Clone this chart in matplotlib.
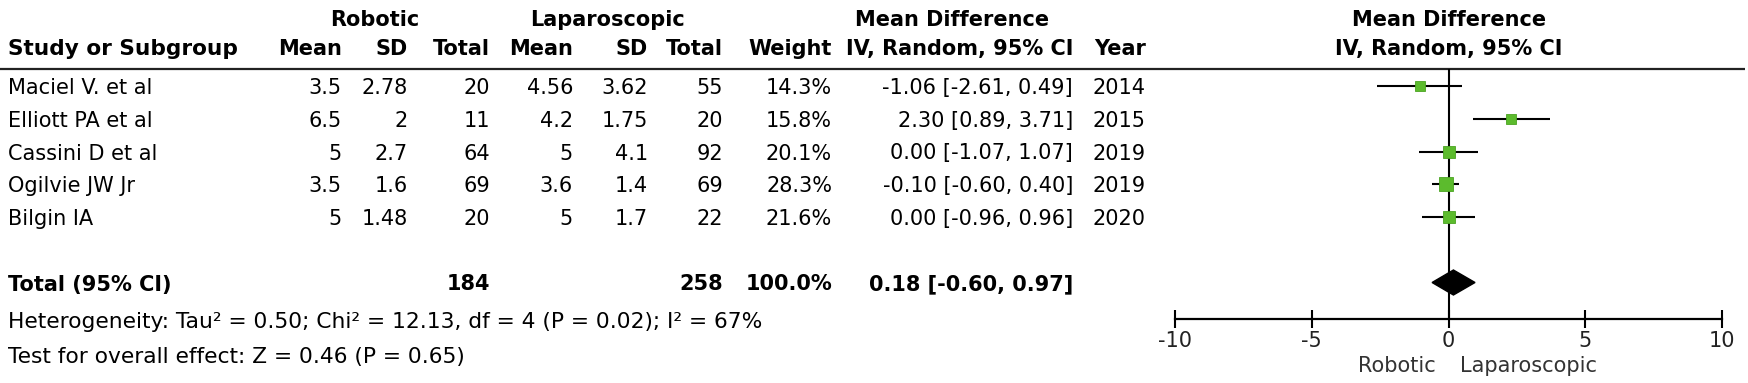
import numpy as np
import matplotlib
matplotlib.use("Agg")
import matplotlib.pyplot as plt

plt.rcParams['font.family'] = ['DejaVu Sans']
plt.rcParams['font.size'] = 15

# --- DATA ---
studies = ["Maciel V. et al", "Elliott PA et al", "Cassini D et al", "Ogilvie JW Jr", "Bilgin IA"]
rob_mean = [3.5, 6.5, 5, 3.5, 5]
rob_sd = [2.78, 2, 2.7, 1.6, 1.48]
rob_n = [20, 11, 64, 69, 20]
lap_mean = [4.56, 4.2, 5, 3.6, 5]
lap_sd = [3.62, 1.75, 4.1, 1.4, 1.7]
lap_n = [55, 20, 92, 69, 22]
weights = [14.3, 15.8, 20.1, 28.3, 21.6]
md = [-1.06, 2.30, 0.00, -0.10, 0.00]
ci_lo = [-2.61, 0.89, -1.07, -0.60, -0.96]
ci_hi = [0.49, 3.71, 1.07, 0.40, 0.96]
years = [2014, 2015, 2019, 2019, 2020]

total_rob_n = 184
total_lap_n = 258
total_weight = 100.0
total_md, total_lo, total_hi = 0.18, -0.60, 0.97

heterogeneity = "Heterogeneity: Tau\u00b2 = 0.50; Chi\u00b2 = 12.13, df = 4 (P = 0.02); I\u00b2 = 67%"
overall = "Test for overall effect: Z = 0.46 (P = 0.65)"
x_ticks = [-10, -5, 0, 5, 10]

# --- LAYOUT (pixels) ---
W, H = 1748, 383
ROW0, ROWSTEP = 86, 32.75
TOTAL_ROW = 6
GREEN = '#5cbb2d'

fig = plt.figure(figsize=(W / 100, H / 100), dpi=100)

# table layer in pixel coordinates
tab = fig.add_axes([0, 0, 1, 1])
tab.set_xlim(0, W)
tab.set_ylim(H, 0)
tab.axis('off')

def row_y(i):
    return ROW0 + ROWSTEP * i + 2

# column right edges
cols = {'rm': 342, 'rsd': 408, 'rn': 490, 'lm': 573, 'lsd': 648,
        'ln': 723, 'w': 832, 'ci': 1073, 'yr': 1146}

# headers
tab.text(375, 20, "Robotic", ha='center', va='center', weight='bold')
tab.text(608, 20, "Laparoscopic", ha='center', va='center', weight='bold')
tab.text(952, 20, "Mean Difference", ha='center', va='center', weight='bold')
tab.text(1449, 20, "Mean Difference", ha='center', va='center', weight='bold')
tab.text(1449, 49, "IV, Random, 95% CI", ha='center', va='center', weight='bold')
tab.text(8, 49, "Study or Subgroup", ha='left', va='center', weight='bold', fontsize=15.6)
for key, lab in [('rm', 'Mean'), ('rsd', 'SD'), ('rn', 'Total'), ('lm', 'Mean'),
                 ('lsd', 'SD'), ('ln', 'Total'), ('w', 'Weight'),
                 ('ci', 'IV, Random, 95% CI'), ('yr', 'Year')]:
    tab.text(cols[key], 49, lab, ha='right', va='center', weight='bold')

tab.plot([0, W - 3], [69, 69], color='#222222', lw=1.6, solid_capstyle='butt')

# study rows
for i, name in enumerate(studies):
    y = row_y(i)
    tab.text(8, y, name, ha='left', va='center')
    vals = [('rm', f"{rob_mean[i]:g}"), ('rsd', f"{rob_sd[i]:g}"), ('rn', f"{rob_n[i]}"),
            ('lm', f"{lap_mean[i]:g}"), ('lsd', f"{lap_sd[i]:g}"), ('ln', f"{lap_n[i]}"),
            ('w', f"{weights[i]:.1f}%"),
            ('ci', f"{md[i]:.2f} [{ci_lo[i]:.2f}, {ci_hi[i]:.2f}]"),
            ('yr', f"{years[i]}")]
    for key, s in vals:
        tab.text(cols[key], y, s, ha='right', va='center')

# total row
yt = row_y(TOTAL_ROW)
tab.text(8, yt, "Total (95% CI)", ha='left', va='center', weight='bold')
tab.text(cols['rn'], yt, f"{total_rob_n}", ha='right', va='center', weight='bold')
tab.text(cols['ln'], yt, f"{total_lap_n}", ha='right', va='center', weight='bold')
tab.text(cols['w'], yt, f"{total_weight:.1f}%", ha='right', va='center', weight='bold')
tab.text(cols['ci'], yt, f"{total_md:.2f} [{total_lo:.2f}, {total_hi:.2f}]",
         ha='right', va='center', weight='bold')

tab.text(8, 322, heterogeneity, ha='left', va='center', fontsize=15.7)
tab.text(8, 357, overall, ha='left', va='center', fontsize=15.7)

# --- FOREST PANEL ---
x_left, x_right = 1175, 1722
y_top, y_axis = 69, 319
ax = fig.add_axes([x_left / W, 1 - y_axis / H, (x_right - x_left) / W, (y_axis - y_top) / H])
ax.set_facecolor('none')
ax.set_xlim(-10, 10)
ax.set_ylim((y_axis - ROW0) / ROWSTEP, (y_top - ROW0) / ROWSTEP)

rows = np.arange(len(studies))
for i in rows:
    ax.plot([ci_lo[i], ci_hi[i]], [i, i], color='black', lw=1.5, zorder=2,
            solid_capstyle='butt')
    side_px = 2.6 * np.sqrt(weights[i])
    ax.plot(md[i], i, marker='s', ms=side_px * 0.72, color=GREEN,
            mec='#4aa322', mew=0.6, zorder=3)

h = 12.5 / ROWSTEP
ax.fill([total_lo, total_md, total_hi, total_md],
        [TOTAL_ROW, TOTAL_ROW - h, TOTAL_ROW, TOTAL_ROW + h],
        color='black', zorder=3)

ax.axvline(0, color='black', lw=1.5, zorder=1)

for s in ['top', 'left', 'right']:
    ax.spines[s].set_visible(False)
ax.spines['bottom'].set_linewidth(1.6)
ax.set_yticks([])
ax.set_xticks(x_ticks)
ax.set_xticklabels([f"{t}" for t in x_ticks])
ax.tick_params(axis='x', direction='inout', length=13, width=1.5, pad=2,
               labelsize=15, labelcolor='#222222')

lab_y = (366 - ROW0) / ROWSTEP
ax.text(-0.45, lab_y, "Robotic", ha='right', va='center', color='#333333',
        clip_on=False)
ax.text(0.42, lab_y, "Laparoscopic", ha='left', va='center', color='#333333',
        clip_on=False)

fig.savefig("out.png", dpi=100)
